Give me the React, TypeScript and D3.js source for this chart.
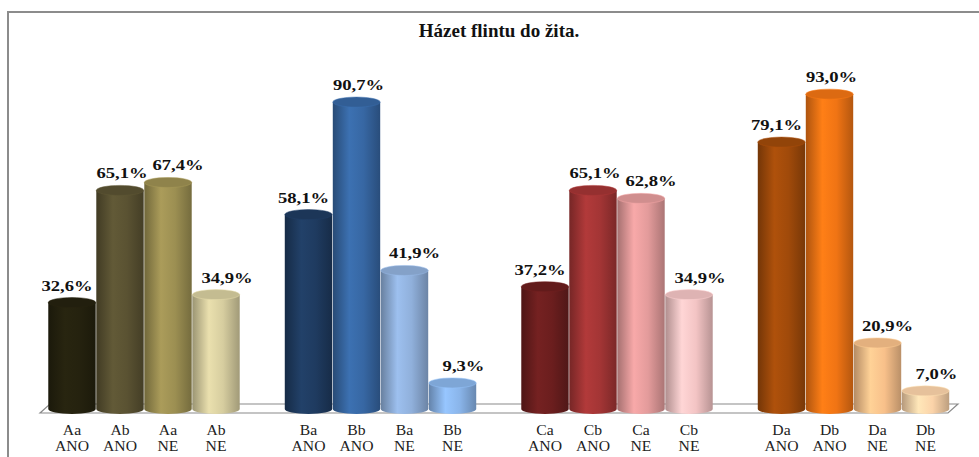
import React from "react";
import * as d3 from "d3";

const TITLE = "Házet flintu do žita.";
const GROUPS = ["A", "B", "C", "D"];
const BAR_NAMES = [
  ["Aa ANO", "Ab ANO", "Aa NE", "Ab NE"],
  ["Ba ANO", "Bb ANO", "Ba NE", "Bb NE"],
  ["Ca ANO", "Cb ANO", "Ca NE", "Cb NE"],
  ["Da ANO", "Db ANO", "Da NE", "Db NE"],
];
const VALUES = [
  [32.6, 65.1, 67.4, 34.9],
  [58.1, 90.7, 41.9, 9.3],
  [37.2, 65.1, 62.8, 34.9],
  [79.1, 93.0, 20.9, 7.0],
];
const COLORS = [
  ["#25220f", "#5a5232", "#9c8f52", "#d6cd9f"],
  ["#1f3b60", "#3767a3", "#90b0db", "#8ab5ea"],
  ["#6b1e1e", "#a33535", "#e39b9b", "#f3c4c4"],
  ["#a04a0a", "#f07414", "#f8c08a", "#fbd3a9"],
];

const W = 979;
const H = 457;
const FLOOR_Y = 409;
const RY = 5;
const LABEL_DX = [-5, 2, 10, 11];
const SERIF = "Liberation Serif, DejaVu Serif, Times New Roman, serif";

export default function App() {
  const x0 = d3
    .scaleBand<string>()
    .domain(GROUPS)
    .range([25.75, 971.75])
    .paddingInner(0.188)
    .paddingOuter(0.094);
  const x1 = d3
    .scaleBand<number>()
    .domain([0, 1, 2, 3])
    .range([0, x0.bandwidth()])
    .padding(0);
  const y = d3.scaleLinear().domain([0, 100]).range([415, 70]);
  const bw = x1.bandwidth();
  const rx = bw / 2 - 0.3;
  const fmt = (v: number) => v.toFixed(1).replace(".", ",") + "%";

  const defs: JSX.Element[] = [];
  const bars: JSX.Element[] = [];
  const labels: JSX.Element[] = [];
  const cats: JSX.Element[] = [];

  GROUPS.forEach((g, gi) => {
    VALUES[gi].forEach((v, bi) => {
      const base = d3.color(COLORS[gi][bi])!;
      const id = `grad-${gi}-${bi}`;
      defs.push(
        <linearGradient key={id} id={id} x1="0" x2="1" y1="0" y2="0">
          <stop offset="0%" stopColor={base.darker(0.9).formatHex()} />
          <stop offset="35%" stopColor={base.brighter(0.25).formatHex()} />
          <stop offset="65%" stopColor={base.formatHex()} />
          <stop offset="100%" stopColor={base.darker(0.8).formatHex()} />
        </linearGradient>
      );
      const cx = (x0(g) as number) + (x1(bi) as number) + bw / 2;
      const yt = y(v);
      const left = cx - rx;
      const right = cx + rx;
      const body = `M${left},${yt} L${left},${FLOOR_Y} A${rx},${RY} 0 0 0 ${right},${FLOOR_Y} L${right},${yt} Z`;
      bars.push(
        <g key={`bar-${gi}-${bi}`}>
          <path d={body} fill={`url(#${id})`} />
          <ellipse
            cx={cx}
            cy={yt}
            rx={rx}
            ry={RY}
            fill={base.darker(0.25).formatHex()}
            stroke={base.brighter(0.2).formatHex()}
            strokeWidth={0.5}
          />
        </g>
      );
      labels.push(
        <text
          key={`lab-${gi}-${bi}`}
          transform={`translate(${cx + LABEL_DX[bi]},${yt - 12}) scale(1.2,1)`}
          textAnchor="middle"
          fontFamily={SERIF}
          fontWeight="bold"
          fontSize={15.5}
          fill="#111"
        >
          {fmt(v)}
        </text>
      );
      const [l1, l2] = BAR_NAMES[gi][bi].split(" ");
      cats.push(
        <text
          key={`cat-${gi}-${bi}`}
          textAnchor="middle"
          fontFamily={SERIF}
          fontSize={14}
          fill="#222"
          transform={`translate(${cx},0) scale(1.12,1)`}
        >
          <tspan x={0} y={435}>{l1}</tspan>
          <tspan x={0} y={451}>{l2}</tspan>
        </text>
      );
    });
  });

  const floor = `M50,${FLOOR_Y - 5} L958,${FLOOR_Y - 5} L948,${FLOOR_Y + 4} L40,${FLOOR_Y + 4} Z`;

  return (
    <svg
      width={W}
      height={H}
      style={{ position: "absolute", left: 0, top: 0, background: "#fff" }}
    >
      <defs>{defs}</defs>
      <rect x={8} y={12} width={W + 20} height={H + 20} fill="#fff" stroke="#8c8c8c" strokeWidth={2} />
      <text
        x={499}
        y={37}
        textAnchor="middle"
        fontFamily={SERIF}
        fontWeight="bold"
        fontSize={19}
        fill="#111"
      >
        {TITLE}
      </text>
      <path d={floor} fill="#ffffff" stroke="#8a8a8a" strokeWidth={1.2} />
      {bars}
      {labels}
      {cats}
    </svg>
  );
}
